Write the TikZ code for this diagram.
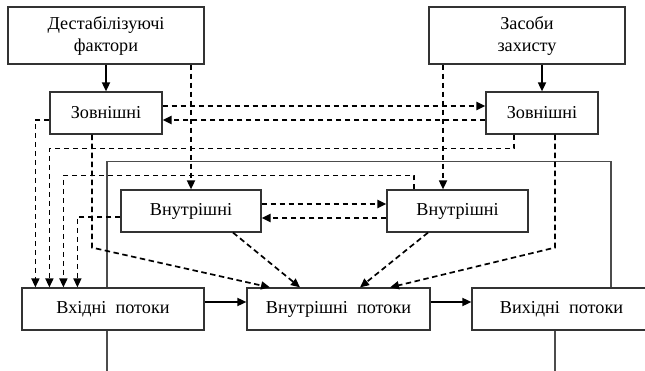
\documentclass[tikz,border=0pt]{standalone}
\usepackage{fontspec}
\setmainfont{Liberation Serif}
\usetikzlibrary{arrows.meta}

\begin{document}
\begin{tikzpicture}[
    x=1pt, y=1pt,
    font=\fontsize{18.2}{22}\selectfont,
    block/.style={draw=black!80, line width=1.2pt, fill=white, align=center,
        inner sep=0pt, minimum height=42pt},
    frame/.style={draw=black!70, line width=1.2pt},
    flow/.style={-{Triangle[length=9pt, width=8pt]}, line width=1.7pt},
    feed/.style={flow, dash pattern=on 5.5pt off 3.5pt},
    thickfeed/.style={feed, line width=2.5pt}
]
    \useasboundingbox (0,0) rectangle (645,-371);
    \clip (0,0) rectangle (645,-371);

    \draw[frame] (107,-371) -- (107,-161.5) -- (611,-161.5) -- (611,-288);
    \draw[frame] (555,-330) -- (555,-371);

    \node[block, minimum width=196pt, minimum height=57pt] (dest) at (106,-35.5) {Дестабілізуючі\\фактори};
    \node[block, minimum width=196pt, minimum height=57pt] (zasoby) at (527,-35.5) {Засоби\\захисту};
    \node[block, minimum width=112pt] (zovL) at (106,-113) {Зовнішні};
    \node[block, minimum width=112pt] (zovR) at (542,-113) {Зовнішні};
    \node[block, minimum width=140pt] (vnL) at (191,-211) {Внутрішні};
    \node[block, minimum width=141pt] (vnR) at (457.5,-211) {Внутрішні};
    \node[block, minimum width=182pt] (vhid) at (113,-309) {Вхідні~~потоки};
    \node[block, minimum width=183pt] (vnutp) at (338.5,-309) {Внутрішні~~потоки};
    \node[block, minimum width=179pt] (vyhid) at (561.5,-309) {Вихідні~~потоки};

    \draw[flow] (dest.south) -- (zovL.north);
    \draw[flow] (zasoby.south -| zovR.north) -- (zovR.north);
    \draw[feed] (dest.south -| vnL.north) -- (vnL.north);
    \draw[feed] ([xshift=-14.5pt]vnR.north |- zasoby.south) -- ([xshift=-14.5pt]vnR.north);

    \draw[thickfeed] ([yshift=7pt]zovL.east) -- ([yshift=7pt]zovR.west);
    \draw[thickfeed] ([yshift=-7pt]zovR.west) -- ([yshift=-7pt]zovL.east);
    \draw[thickfeed] ([yshift=7pt]vnL.east) -- ([yshift=7pt]vnR.west);
    \draw[thickfeed] ([yshift=-7pt]vnR.west) -- ([yshift=-7pt]vnL.east);

    \draw[feed] ([yshift=-7pt]zovL.west) -| ([xshift=14pt]vhid.north west);
    \draw[feed] ([xshift=-28pt]zovR.south) -- ++(0,-14) -| ([xshift=28pt]vhid.north west);
    \draw[feed] ([xshift=-43.5pt]vnR.north) -- ++(0,14) -| ([xshift=42pt]vhid.north west);
    \draw[feed, line width=1.3pt] ([yshift=-6pt]vnL.west) -| ([xshift=56pt]vhid.north west);

    \draw[feed] ([xshift=-14pt]zovL.south) -- ++(0,-113) -- ([xshift=-68.5pt]vnutp.north);
    \draw[feed] ([xshift=42pt]vnL.south) -- ([xshift=-38.5pt]vnutp.north);
    \draw[feed] ([xshift=-29.5pt]vnR.south) -- ([xshift=21.5pt]vnutp.north);
    \draw[feed] ([xshift=13pt]zovR.south) -- ++(0,-113) -- ([xshift=51.5pt]vnutp.north);

    \draw[flow] ([yshift=7pt]vhid.east) -- ([yshift=7pt]vnutp.west);
    \draw[flow] ([yshift=7pt]vnutp.east) -- ([yshift=7pt]vyhid.west);
\end{tikzpicture}
\end{document}
